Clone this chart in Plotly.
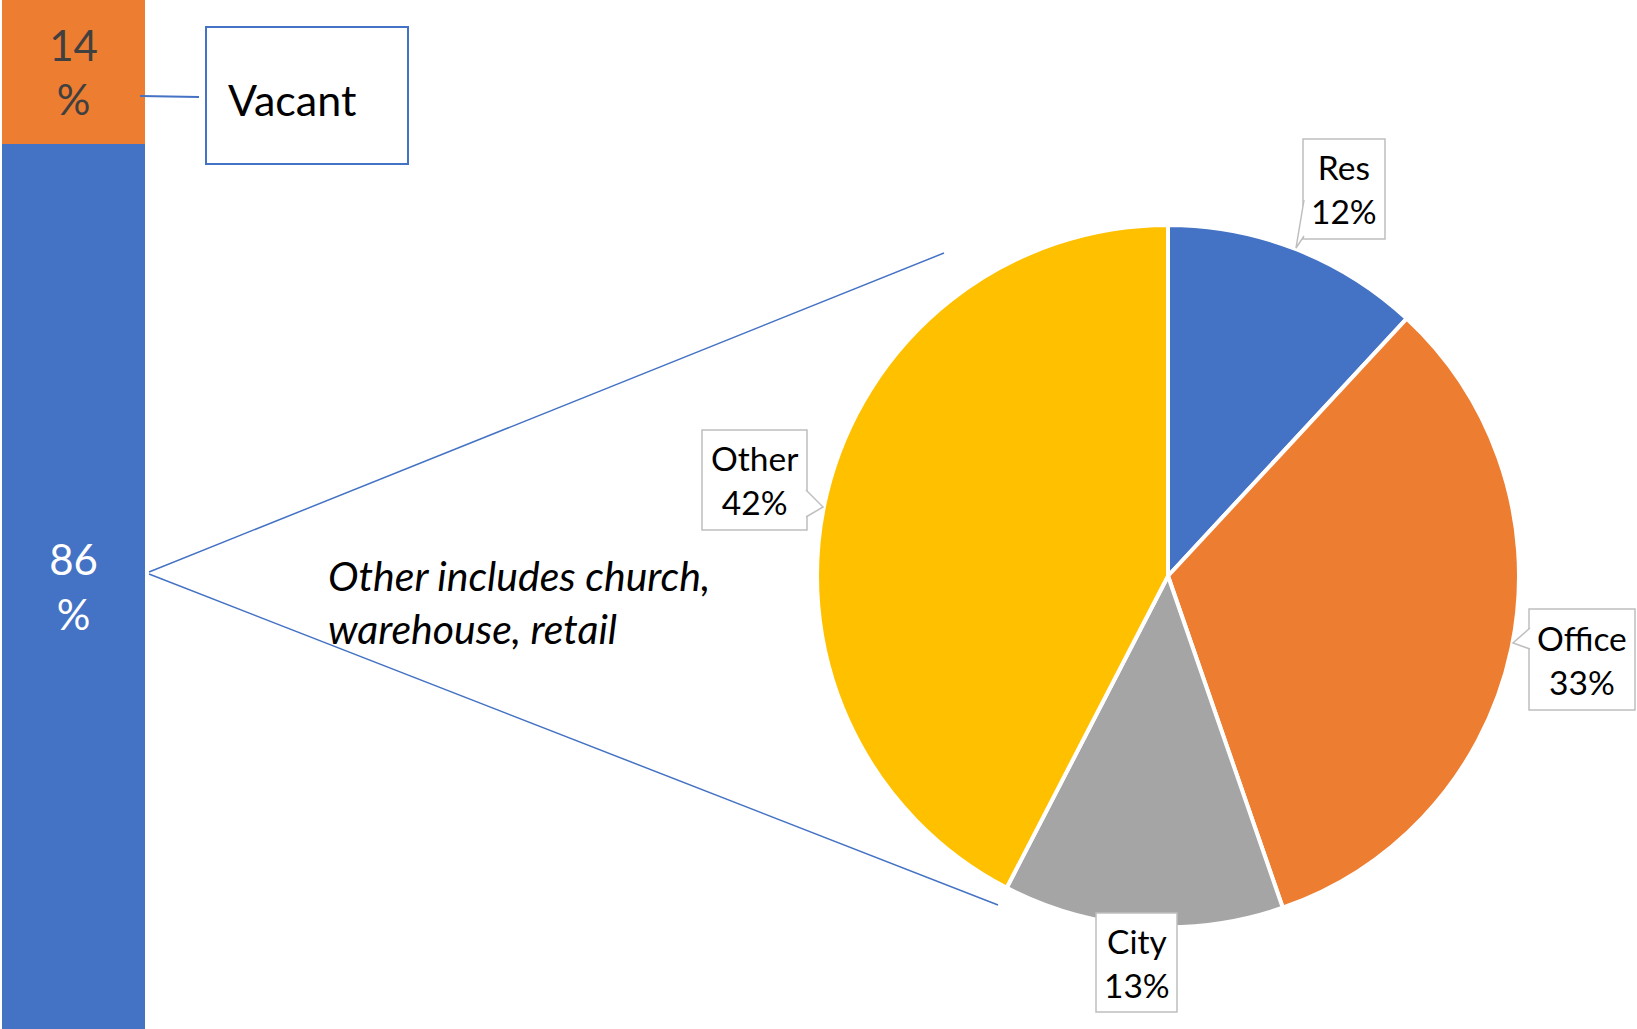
import plotly.graph_objects as go

# ---- data ----
bar_categories = ["Total"]
occupied_pct = [86]
vacant_pct = [14]
vacant_label = "Vacant"

pie_labels = ["Res", "Office", "City", "Other"]
pie_values = [11.9, 32.8, 12.9, 42.4]
pie_colors = ["#4472C4", "#ED7D31", "#A5A5A5", "#FFC000"]
note_text = "Other includes church,<br>warehouse, retail"

W, H = 1637, 1029
FONT = "Lato, 'Open Sans', sans-serif"
BLUE = "#4472C4"
GRAY = "#BFBFBF"


def px(x):
    return x / W


def py(y):
    return 1 - y / H


fig = go.Figure()

# stacked bar
fig.add_trace(go.Bar(
    x=bar_categories, y=occupied_pct, marker=dict(color=BLUE, line=dict(width=0)),
    text=[f"{v}<br>%" for v in occupied_pct], textposition="inside",
    insidetextanchor="middle", textangle=0,
    textfont=dict(family=FONT, size=42, color="white"),
    xaxis="x", yaxis="y", hoverinfo="skip", showlegend=False,
))
fig.add_trace(go.Bar(
    x=bar_categories, y=vacant_pct, marker=dict(color="#ED7D31", line=dict(width=0)),
    text=[f"{v}<br>%" for v in vacant_pct], textposition="inside",
    insidetextanchor="middle", textangle=0,
    textfont=dict(family=FONT, size=42, color="#404040"),
    xaxis="x", yaxis="y", hoverinfo="skip", showlegend=False,
))

# pie
cx, cy, r = 1168, 576, 351
fig.add_trace(go.Pie(
    labels=pie_labels, values=pie_values, sort=False, direction="clockwise",
    rotation=0, marker=dict(colors=pie_colors, line=dict(color="white", width=4)),
    textinfo="none", hoverinfo="skip", showlegend=False,
    domain=dict(x=[px(cx - r), px(cx + r)], y=[py(cy + r), py(cy - r)]),
))

shapes = []
annotations = []

# zoom lines
shapes.append(dict(type="line", xref="paper", yref="paper",
                   x0=px(149), y0=py(572), x1=px(944), y1=py(253),
                   line=dict(color=BLUE, width=1.5)))
shapes.append(dict(type="line", xref="paper", yref="paper",
                   x0=px(149), y0=py(574), x1=px(998), y1=py(905),
                   line=dict(color=BLUE, width=1.5)))

# Vacant callout
shapes.append(dict(type="line", xref="paper", yref="paper",
                   x0=px(140), y0=py(96), x1=px(199), y1=py(97),
                   line=dict(color=BLUE, width=2)))
shapes.append(dict(type="rect", xref="paper", yref="paper",
                   x0=px(206), y0=py(27), x1=px(408), y1=py(164),
                   line=dict(color=BLUE, width=2), fillcolor="white"))
annotations.append(dict(xref="paper", yref="paper", x=px(226), y=py(100),
                        xanchor="left", yanchor="middle", showarrow=False,
                        text=vacant_label, font=dict(family=FONT, size=43, color="black")))

# pie data labels (boxes)
boxes = {
    "Res": (1303, 139, 1385, 239),
    "Office": (1529, 609, 1635, 710),
    "City": (1096, 913, 1177, 1012),
    "Other": (702, 430, 807, 530),
}
pointers = {
    "Res": [(1304, 200), (1296, 248), (1304, 236)],
    "Office": [(1530, 628), (1513, 643), (1530, 649)],
    "Other": [(806, 490), (823, 507), (806, 517)],
}
for lab, val in zip(pie_labels, pie_values):
    x0, y0, x1, y1 = boxes[lab]
    shapes.append(dict(type="rect", xref="paper", yref="paper",
                       x0=px(x0), y0=py(y0), x1=px(x1), y1=py(y1),
                       line=dict(color=GRAY, width=1.5), fillcolor="white"))
    if lab in pointers:
        pts = pointers[lab]
        path = "M {} {} L {} {} L {} {}".format(
            px(pts[0][0]), py(pts[0][1]), px(pts[1][0]), py(pts[1][1]),
            px(pts[2][0]), py(pts[2][1]))
        shapes.append(dict(type="path", xref="paper", yref="paper", path=path,
                           line=dict(color=GRAY, width=1.5), fillcolor="white"))
    annotations.append(dict(xref="paper", yref="paper",
                            x=px((x0 + x1) / 2), y=py((y0 + y1) / 2),
                            xanchor="center", yanchor="middle", showarrow=False,
                            text=f"{lab}<br>{round(val)}%", align="center",
                            font=dict(family=FONT, size=33.5, color="black")))

# note
annotations.append(dict(xref="paper", yref="paper", x=px(326), y=py(602),
                        xanchor="left", yanchor="middle", showarrow=False,
                        align="left", text=f"<i>{note_text}</i>",
                        font=dict(family=FONT, size=41, color="black")))

fig.update_layout(
    width=W, height=H, margin=dict(l=0, r=0, t=0, b=0),
    paper_bgcolor="white", plot_bgcolor="white",
    barmode="stack", bargap=0,
    xaxis=dict(domain=[px(2), px(145)], visible=False, fixedrange=True),
    yaxis=dict(domain=[0, 1], range=[0, 100], visible=False, fixedrange=True),
    shapes=shapes, annotations=annotations,
)

fig.write_html("out.html", config={"displayModeBar": False},
               post_script="document.body.style.margin='0';document.body.style.overflow='hidden';")
